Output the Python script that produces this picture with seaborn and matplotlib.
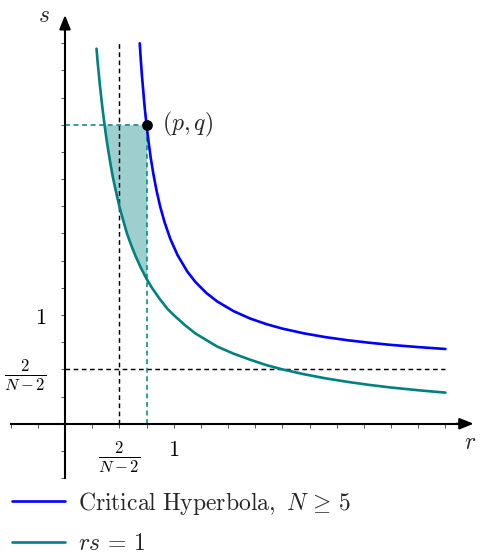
import numpy as np
import pandas as pd
import seaborn as sns
import matplotlib.pyplot as plt
from matplotlib.lines import Line2D

# curve rs = 1
teal_r = [0.29, 0.30, 0.31, 0.32, 0.33, 0.345, 0.36, 0.38, 0.40, 0.42, 0.44,
          0.47, 0.50, 0.53, 0.57, 0.61, 0.65, 0.70, 0.75, 0.80, 0.87, 0.94,
          1.00, 1.10, 1.20, 1.30, 1.40, 1.55, 1.70, 1.85, 2.00, 2.20, 2.40,
          2.60, 2.80, 3.00, 3.25, 3.50]
teal_s = [3.45, 3.33, 3.23, 3.125, 3.03, 2.90, 2.78, 2.63, 2.50, 2.38, 2.27,
          2.13, 2.00, 1.89, 1.75, 1.64, 1.54, 1.43, 1.333, 1.25, 1.15, 1.06,
          1.00, 0.91, 0.83, 0.77, 0.71, 0.645, 0.59, 0.54, 0.50, 0.455, 0.417,
          0.385, 0.357, 0.333, 0.308, 0.286]

# critical hyperbola, points
blue_r = [0.6875, 0.697, 0.708, 0.721, 0.734, 0.75, 0.768, 0.788, 0.8125,
          0.841, 0.875, 0.917, 0.969, 1.036, 1.125, 1.20, 1.30, 1.40, 1.55,
          1.70, 1.85, 2.00, 2.20, 2.40, 2.60, 2.80, 3.00, 3.25, 3.50]
blue_s = [3.50, 3.35, 3.20, 3.05, 2.90, 2.75, 2.60, 2.45, 2.30,
          2.15, 2.00, 1.85, 1.70, 1.55, 1.40, 1.304, 1.203, 1.125, 1.036,
          0.969, 0.917, 0.875, 0.831, 0.796, 0.768, 0.745, 0.725, 0.705, 0.6875]

p, q = 0.75, 2.75
crit = 0.5  # 2/(N-2)
ticks = np.arange(-0.5, 3.51, 0.25)

teal = '#008080'
blue = '#0000ff'

sns.set_theme(style='white')
plt.rcParams['font.family'] = ['DejaVu Serif']
plt.rcParams['mathtext.fontset'] = 'cm'

fig = plt.figure(figsize=(4.8, 5.57), dpi=100)
ax = fig.add_axes([0, 0, 1, 1])

teal_df = pd.DataFrame({'r': teal_r, 's': teal_s})
blue_df = pd.DataFrame({'r': blue_r, 's': blue_s})

# shaded region between rs=1, s=q and r=p
sub = teal_df[(teal_df['r'] >= 0.36) & (teal_df['r'] <= p)]
ax.fill_between(sub['r'], sub['s'], q, color=teal, alpha=0.38, lw=0)

dash = (0, (3.2, 2.4))
ax.plot([crit, crit], [0, 3.5], color='black', lw=1.05, ls=dash)
ax.plot([0, 3.5], [crit, crit], color='black', lw=1.05, ls=dash)
ax.plot([0, p], [q, q], color=teal, lw=1.1, ls=dash)
ax.plot([p, p], [0, q], color=teal, lw=1.1, ls=dash)

sns.lineplot(data=teal_df, x='r', y='s', color=teal, lw=1.9, ax=ax, sort=False)
sns.lineplot(data=blue_df, x='r', y='s', color=blue, lw=1.9, ax=ax, sort=False)
ax.set_xlabel('')
ax.set_ylabel('')
ax.set_xlim(-0.598, 3.818)
ax.set_ylim(-1.226, 3.898)

ax.scatter([p], [q], s=45, color='black', zorder=5)
ax.text(p + 0.14, q, '$(p,q)$', fontsize=17, va='center', ha='left')

# axes through the origin
for side in ['top', 'right']:
    ax.spines[side].set_visible(False)
for side in ['left', 'bottom']:
    ax.spines[side].set_position(('data', 0))
    ax.spines[side].set_linewidth(1.5)
    ax.spines[side].set_color('black')
ax.spines['bottom'].set_bounds(-0.5, 3.7)
ax.spines['left'].set_bounds(-0.5, 3.7)
ax.annotate('', xy=(3.76, 0), xytext=(3.6, 0),
            arrowprops=dict(arrowstyle='-|>,head_length=0.7,head_width=0.28',
                            color='black', lw=1.5, shrinkA=0, shrinkB=0))
ax.annotate('', xy=(0, 3.76), xytext=(0, 3.6),
            arrowprops=dict(arrowstyle='-|>,head_length=0.7,head_width=0.28',
                            color='black', lw=1.5, shrinkA=0, shrinkB=0))

frac = r'$\frac{2}{N-2}$'
labels = [frac if t == crit else ('$1$' if t == 1 else '') for t in ticks]
ax.set_xticks(ticks)
ax.set_xticklabels(labels)
ax.set_yticks(ticks)
ax.set_yticklabels(labels)
ax.tick_params(axis='both', direction='out', length=3.2, width=0.7,
               color='#555555', labelsize=16, labelcolor='black')
ax.tick_params(axis='x', pad=8)
ax.tick_params(axis='y', pad=10)
for lab in ax.get_xticklabels() + ax.get_yticklabels():
    if 'frac' in lab.get_text():
        lab.set_fontsize(17)
ax.xaxis.set_ticks_position('bottom')
ax.yaxis.set_ticks_position('left')

ax.text(3.73, -0.17, '$r$', fontsize=17, ha='center', va='center')
ax.text(-0.19, 3.76, '$s$', fontsize=17, ha='center', va='center')

handles = [Line2D([], [], color=blue, lw=1.9), Line2D([], [], color=teal, lw=1.9)]
names = [r'$\mathrm{Critical\ Hyperbola,}\ N\,\geq\,5$', r'$rs\,=\,1$']
fig.legend(handles, names, loc='upper left', bbox_to_anchor=(0.005, 0.138),
           frameon=False, fontsize=17, handlelength=2.25, handletextpad=0.55,
           labelspacing=0.66, borderaxespad=0)

fig.savefig('out.png', dpi=100)
